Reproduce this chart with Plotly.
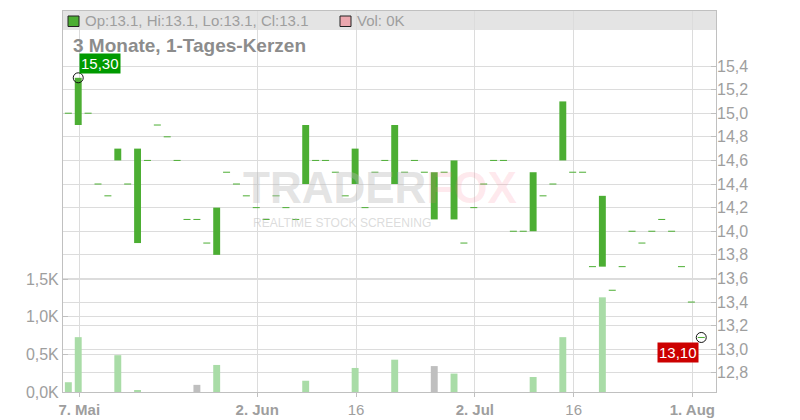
import plotly.graph_objects as go
import pandas as pd

# ---------------- data ----------------
dates = pd.bdate_range("2024-05-06", "2024-08-02")  # trading days (65)

opens = [15.0, 14.9, 15.0, 14.4, 14.3, 14.6, 14.4, 13.9, 14.6, 14.9,
         14.8, 14.6, 14.1, 14.1, 13.9, 13.8, 14.5, 14.4, 14.3, 14.2,
         14.1, 14.3, 14.2, 14.1, 14.4, 14.6, 14.6, 14.5, 14.3, 14.4,
         14.2, 14.5, 14.6, 14.4, 14.5, 14.6, 14.5, 14.1, 14.5, 14.1,
         13.9, 14.2, 14.4, 14.6, 14.6, 14.0, 14.0, 14.0, 14.3, 14.4,
         14.6, 14.5, 14.5, 13.7, 13.7, 13.5, 13.7, 14.0, 13.9, 14.0,
         14.1, 14.0, 13.7, 13.4, 13.1]
closes = [15.0, 15.3, 15.0, 14.4, 14.3, 14.7, 14.4, 14.7, 14.6, 14.9,
          14.8, 14.6, 14.1, 14.1, 13.9, 14.2, 14.5, 14.4, 14.3, 14.2,
          14.1, 14.3, 14.2, 14.1, 14.9, 14.6, 14.6, 14.5, 14.3, 14.7,
          14.2, 14.5, 14.6, 14.9, 14.5, 14.6, 14.5, 14.5, 14.5, 14.6,
          13.9, 14.2, 14.4, 14.6, 14.6, 14.0, 14.0, 14.5, 14.3, 14.4,
          15.1, 14.5, 14.5, 13.7, 14.3, 13.5, 13.7, 14.0, 13.9, 14.0,
          14.1, 14.0, 13.7, 13.4, 13.1]
volumes = [130, 730, 0, 0, 0, 490, 0, 25, 0, 0,
           0, 0, 0, 95, 0, 360, 0, 0, 0, 0,
           0, 0, 0, 0, 150, 0, 0, 0, 0, 320,
           0, 0, 0, 430, 0, 0, 0, 345, 0, 245,
           0, 0, 0, 0, 0, 0, 0, 200, 0, 0,
           730, 0, 0, 0, 1260, 0, 0, 0, 0, 0,
           0, 0, 0, 0, 0]

tick_dates = ["2024-05-07", "2024-06-02", "2024-06-16", "2024-07-02", "2024-07-16", "2024-08-01"]
tick_labels = ["<b>7. Mai</b>", "<b>2. Jun</b>", "16", "<b>2. Jul</b>", "16", "<b>1. Aug</b>"]
price_ticks = [12.8, 13.0, 13.2, 13.4, 13.6, 13.8, 14.0, 14.2, 14.4, 14.6, 14.8, 15.0, 15.2, 15.4]
vol_ticks = [0, 500, 1000, 1500]
vol_labels = ["0,0K", "0,5K", "1,0K", "1,5K"]
title_text = "3 Monate, 1-Tages-Kerzen"

# ---------------- derived ----------------
x = list(range(len(dates)))
highs = [max(o, c) for o, c in zip(opens, closes)]
lows = [min(o, c) for o, c in zip(opens, closes)]
tick_pos = [int(dates.searchsorted(pd.Timestamp(d), side="right")) - 1 + 0.1 for d in tick_dates]

body_idx = [i for i in x if opens[i] != closes[i]]
flat_idx = [i for i in x if opens[i] == closes[i]]

GREEN = "#4cae33"
VOL_GREEN = "#a9dca7"
VOL_GRAY = "#bfbfbf"
vol_colors = [VOL_GREEN if i == 0 or closes[i] != closes[i - 1] else VOL_GRAY for i in range(len(closes))]

fmt = lambda v: f"{v:.2f}".replace(".", ",")
fmt1 = lambda v: f"{v:.1f}".replace(".", ",")

GRID = "#dcdcdc"
AXIS = "#c0c0c0"
TXT = "#9e9e9e"
FONT = "Liberation Sans, Arial, sans-serif"

fig = go.Figure()

# volume
fig.add_trace(go.Bar(
    x=x, y=volumes, marker=dict(color=vol_colors, line=dict(width=0)),
    width=0.7, yaxis="y", showlegend=False, hoverinfo="skip"))

# candle bodies
fig.add_trace(go.Bar(
    x=body_idx, y=[highs[i] - lows[i] for i in body_idx], base=[lows[i] for i in body_idx],
    width=0.7, yaxis="y2", marker=dict(color=GREEN, line=dict(width=0)),
    showlegend=False, hoverinfo="skip"))

# flat candles (open == close)
fig.add_trace(go.Scatter(
    x=flat_idx, y=[closes[i] for i in flat_idx], yaxis="y2", mode="markers",
    marker=dict(symbol="line-ew", size=5, color=GREEN, line=dict(color=GREEN, width=1)),
    showlegend=False, hoverinfo="skip"))

imax = highs.index(max(highs))
fig.add_trace(go.Scatter(
    x=[imax, x[-1]], y=[highs[imax], closes[-1]], yaxis="y2", mode="markers",
    marker=dict(symbol="circle-open", size=10, color="#111111", line=dict(width=1)),
    showlegend=False, hoverinfo="skip"))

# plot area: x 63..716, y 11..392
L, R, T, B = 63, 716, 11, 392
W, H = R - L, B - T
px = lambda p: (p - L) / W
py = lambda p: (B - p) / H

shapes = [
    dict(type="rect", xref="paper", yref="paper", x0=0, x1=1, y0=py(30), y1=1,
         fillcolor="#e4e4e4", line=dict(width=0), layer="below"),
    dict(type="rect", xref="paper", yref="paper", x0=px(68), x1=px(79), y0=py(26.5), y1=py(16),
         fillcolor=GREEN, line=dict(width=1, color="#222222"), layer="above"),
    dict(type="rect", xref="paper", yref="paper", x0=px(340), x1=px(351), y0=py(26.5), y1=py(16),
         fillcolor="#eba7ae", line=dict(width=1, color="#222222"), layer="above"),
]

o, h, l, c = opens[-1], highs[-1], lows[-1], closes[-1]
annotations = [
    dict(xref="paper", yref="paper", x=px(83), y=py(20.5), xanchor="left", yanchor="middle",
         text=f"Op:{o}, Hi:{h}, Lo:{l}, Cl:{c}", showarrow=False,
         font=dict(size=15, color=TXT, family=FONT)),
    dict(xref="paper", yref="paper", x=px(355), y=py(20.5), xanchor="left", yanchor="middle",
         text=f"Vol: {volumes[-1] // 1000}K", showarrow=False,
         font=dict(size=15, color=TXT, family=FONT)),
    dict(xref="paper", yref="paper", x=px(71), y=py(46), xanchor="left", yanchor="middle",
         text=f"<b>{title_text}</b>", showarrow=False,
         font=dict(size=19, color="#8c8c8c", family=FONT)),
    # watermark
    dict(xref="paper", yref="paper", x=px(380), y=py(214), xanchor="center", yanchor="bottom",
         text="<b>TRADER<span style='color:rgba(250,120,140,0.4)'>FOX</span></b>", showarrow=False,
         font=dict(size=44, color="rgba(185,185,185,0.4)", family=FONT)),
    dict(xref="paper", yref="paper", x=px(342), y=py(214), xanchor="center", yanchor="top",
         text="REALTIME STOCK SCREENING", showarrow=False,
         font=dict(size=12, color="rgba(185,185,185,0.5)", family=FONT)),
    # value labels
    dict(x=imax, y=highs[imax], xref="x", yref="y2", text=fmt(highs[imax]), showarrow=False,
         xanchor="left", yanchor="bottom", xshift=1, yshift=4, bgcolor="#009a00", borderpad=1,
         font=dict(size=15, color="white", family=FONT)),
    dict(x=x[-1], y=closes[-1], xref="x", yref="y2", text=fmt(closes[-1]), showarrow=False,
         xanchor="right", yanchor="top", xshift=-2, yshift=-5, bgcolor="#cc0000", borderpad=1,
         font=dict(size=15, color="white", family=FONT)),
]

fig.update_layout(
    width=800, height=420, autosize=False,
    margin=dict(l=L, r=800 - R, t=T, b=420 - B, pad=0, autoexpand=False),
    paper_bgcolor="white", plot_bgcolor="rgba(0,0,0,0)",
    font=dict(family=FONT, color=TXT),
    showlegend=False, barmode="overlay",
    shapes=shapes, annotations=annotations,
    xaxis=dict(range=[-0.54, 65.49], tickvals=tick_pos, ticktext=tick_labels,
               showgrid=True, gridcolor=GRID, gridwidth=1, zeroline=False,
               showline=True, linecolor=AXIS, linewidth=1, mirror=True,
               ticks="outside", ticklen=4, tickcolor=AXIS, automargin=False,
               tickfont=dict(size=15, color=TXT)),
    yaxis=dict(side="left", range=[0, 5071], tickvals=vol_ticks, ticktext=vol_labels,
               showgrid=True, gridcolor=GRID, zeroline=False,
               showline=True, linecolor=AXIS, linewidth=1, mirror=True,
               ticks="inside", ticklen=5, tickcolor=AXIS, automargin=False,
               tickfont=dict(size=16, color=TXT)),
    yaxis2=dict(side="right", overlaying="y", range=[12.638, 15.866],
                tickvals=price_ticks, ticktext=[fmt1(v) for v in price_ticks],
                showgrid=True, gridcolor=GRID, zeroline=False, showline=False,
                ticks="inside", ticklen=5, tickcolor=AXIS, automargin=False,
                tickfont=dict(size=16, color=TXT)),
)

fig.write_html("out.html", config={"displayModeBar": False},
               post_script="document.body.style.margin='0';document.body.style.overflow='hidden';")
